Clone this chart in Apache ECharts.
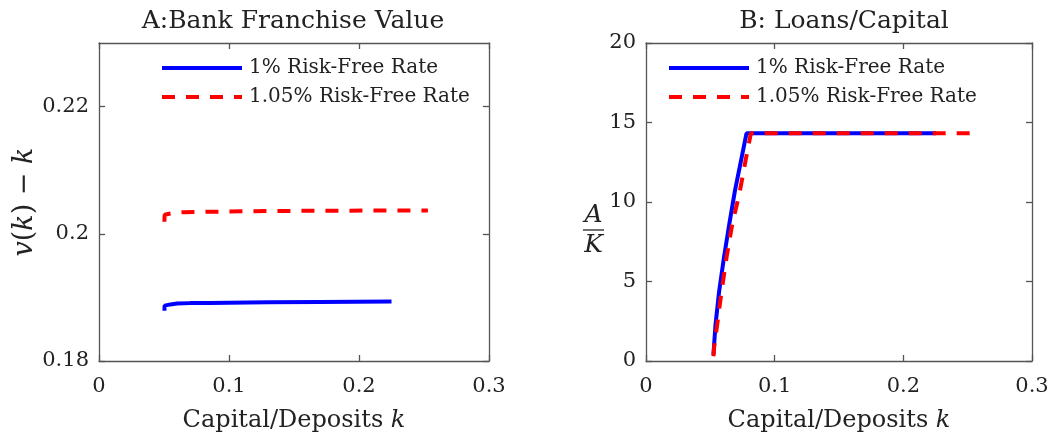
<!DOCTYPE html>
<html>
<head>
<meta charset="utf-8">
<script src="https://cdn.jsdelivr.net/npm/echarts@6/dist/echarts.min.js"></script>
<style>
  html, body { margin: 0; padding: 0; background: #fff; }
  #main { width: 1058px; height: 441px; }
</style>
</head>
<body>
<div id="main"></div>
<script>
// panel A: franchise value v(k) - k
var kBlueA = [0.0503, 0.0505, 0.055, 0.06, 0.07, 0.085, 0.10, 0.13, 0.17, 0.225];
var vBlueA = [0.1879, 0.1887, 0.1889, 0.18903, 0.1891, 0.18913, 0.18916, 0.18922, 0.18928, 0.18934];
var kRedA = [0.0503, 0.0505, 0.055, 0.065, 0.08, 0.10, 0.13, 0.17, 0.253];
var vRedA = [0.2019, 0.2030, 0.2032, 0.2034, 0.20345, 0.2035, 0.20358, 0.20363, 0.20367];

// panel B: loans / capital
var kBlueB = [0.0524, 0.0540, 0.0568, 0.0605, 0.0646, 0.0690, 0.0742, 0.0781, 0.2255];
var rBlueB = [0.4, 2.26, 4.36, 6.46, 8.55, 10.65, 12.75, 14.32, 14.32];
var kRedB = [0.0524, 0.0530, 0.0553, 0.0587, 0.0625, 0.0669, 0.0729, 0.0777, 0.0815, 0.253];
var rRedB = [0.3, 0.9, 2.26, 4.36, 6.46, 8.55, 10.65, 12.75, 14.32, 14.32];

var names = ['1% Risk-Free Rate', '1.05% Risk-Free Rate'];
var yTicksA = [0.18, 0.2, 0.22];

var font = 'DejaVu Serif';
var axisColor = '#555';

function pairs(xs, ys) {
  return xs.map(function (x, i) { return [x, ys[i]]; });
}

function boxAxis(pos, grid, min, max, interval, ticks) {
  var ax = {
    type: 'value', gridIndex: grid, position: pos, min: min, max: max, interval: interval,
    axisLine: { show: true, onZero: false, lineStyle: { color: axisColor, width: 1.3 } },
    axisTick: { show: true, inside: true, length: 6, lineStyle: { color: axisColor, width: 1.3 } },
    axisLabel: { show: false },
    splitLine: { show: false }
  };
  if (ticks) {
    ax.axisTick.customValues = ticks;
  }
  return ax;
}

function mainX(grid) {
  var ax = boxAxis('bottom', grid, 0, 0.3, 0.1);
  ax.axisLabel = { show: true, margin: 15, color: '#222', fontFamily: font, fontSize: 21 };
  ax.name = '{n|Capital/Deposits }{i|k}';
  ax.nameLocation = 'middle';
  ax.nameGap = 48;
  ax.nameTextStyle = {
    rich: {
      n: { fontFamily: font, fontSize: 24, color: '#222' },
      i: { fontFamily: font, fontSize: 24, fontStyle: 'italic', color: '#222' }
    }
  };
  return ax;
}

var xAxes = [mainX(0), boxAxis('top', 0, 0, 0.3, 0.1), mainX(1), boxAxis('top', 1, 0, 0.3, 0.1)];

var yA = boxAxis('left', 0, 0.18, 0.23, 0.02, yTicksA);
yA.axisLabel = { show: true, margin: 10, color: '#222', fontFamily: font, fontSize: 21, customValues: yTicksA };
yA.name = '{i|v}({i|k}) − {i|k}';
yA.nameLocation = 'middle';
yA.nameGap = 51;
yA.nameTextStyle = {
  fontFamily: font, fontSize: 27, color: '#222',
  rich: {
    i: { fontFamily: font, fontSize: 27, fontStyle: 'italic', color: '#222' }
  }
};

var yB = boxAxis('left', 1, 0, 20, 5);
yB.axisLabel = { show: true, margin: 10, color: '#222', fontFamily: font, fontSize: 21 };
yB.name = '{a|A}\n{bar|}\n{a|K}';
yB.nameLocation = 'middle';
yB.nameRotate = 0;
yB.nameGap = 42;
yB.nameTextStyle = {
  padding: [56, 0, 0, 0],
  rich: {
    a: { fontFamily: font, fontSize: 25, fontStyle: 'italic', color: '#222', lineHeight: 27, align: 'center' },
    bar: { width: 21, height: 0, borderWidth: 0.8, borderColor: '#222', lineHeight: 3, align: 'center' }
  }
};

var yAxes = [yA, boxAxis('right', 0, 0.18, 0.23, 0.02, yTicksA), yB, boxAxis('right', 1, 0, 20, 5)];

function lineSeries(name, xi, yi, data, color, dashed) {
  return {
    name: name, type: 'line', xAxisIndex: xi, yAxisIndex: yi,
    data: data, symbol: 'none', showSymbol: false, animation: false,
    lineStyle: { color: color, width: 4, type: dashed ? [13, 11] : 'solid', cap: 'butt' },
    itemStyle: { color: color }
  };
}

function legendAt(left) {
  return {
    data: names, orient: 'vertical', left: left, top: 53,
    itemWidth: 80, itemHeight: 21, itemGap: 9,
    selectedMode: false,
    itemStyle: { opacity: 0 },
    lineStyle: { width: 4 },
    textStyle: { fontFamily: font, fontSize: 20, color: '#222', padding: [0, 0, 0, 2] }
  };
}

var chart = echarts.init(document.getElementById('main'));
var option = {
  backgroundColor: '#fff',
  animation: false,
  title: [
    { text: 'A:Bank Franchise Value', left: 288, top: 4, textAlign: 'center',
      textStyle: { fontFamily: font, fontSize: 25, fontWeight: 'normal', color: '#222' } },
    { text: 'B: Loans/Capital', left: 839, top: 4, textAlign: 'center',
      textStyle: { fontFamily: font, fontSize: 25, fontWeight: 'normal', color: '#222' } }
  ],
  legend: [legendAt(155), legendAt(662)],
  grid: [
    { left: 99, right: 569, top: 43, bottom: 80 },
    { left: 646, right: 26, top: 43, bottom: 80 }
  ],
  xAxis: xAxes,
  yAxis: yAxes,
  series: [
    lineSeries(names[0], 0, 0, pairs(kBlueA, vBlueA), '#0000ff', false),
    lineSeries(names[1], 0, 0, pairs(kRedA, vRedA), '#ff0000', true),
    lineSeries(names[0], 2, 2, pairs(kBlueB, rBlueB), '#0000ff', false),
    lineSeries(names[1], 2, 2, pairs(kRedB, rRedB), '#ff0000', true)
  ]
};
option && chart.setOption(option);
</script>
</body>
</html>
